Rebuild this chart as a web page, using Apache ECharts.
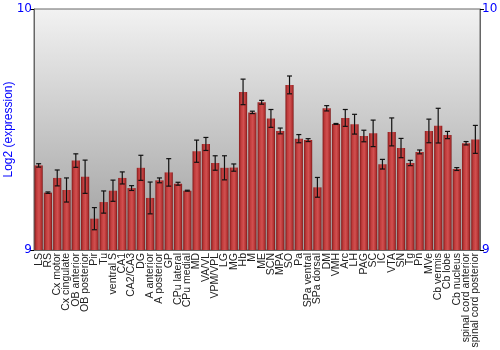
<!DOCTYPE html>
<html><head><meta charset="utf-8">
<script src="https://cdn.jsdelivr.net/npm/echarts@6/dist/echarts.min.js"></script>
<style>html,body{margin:0;padding:0;background:#fff}#c{width:500px;height:350px}</style>
</head><body><div id="c"></div>
<script>
var categories = ["LS","RS","Cx motor","Cx cingulate","OB anterior","OB posterior","Pir","Tu","ventral S","CA1","CA2/CA3","DG","A anterior","A posterior","GP","CPu lateral","CPu medial","MD","VA/VL","VPM/VPL","LG","MG","Hb","M","ME","SCN","MPA","SO","Pa","SPa ventral","SPa dorsal","DM","VMH","Arc","LH","PAG","SC","IC","VTA","SN","Tg","Pn","MVe","Cb vermis","Cb lobe","Cb nucleus","spinal cord anterior","spinal cord posterior"];
var values = [9.351,9.238,9.299,9.249,9.371,9.304,9.130,9.199,9.246,9.299,9.257,9.341,9.216,9.289,9.322,9.275,9.246,9.410,9.440,9.361,9.341,9.342,9.656,9.571,9.613,9.546,9.494,9.685,9.462,9.456,9.260,9.588,9.523,9.548,9.522,9.473,9.484,9.356,9.490,9.423,9.361,9.407,9.494,9.516,9.477,9.336,9.443,9.459];
var errors = [0.007,0.003,0.033,0.050,0.028,0.069,0.046,0.046,0.044,0.025,0.010,0.052,0.066,0.010,0.057,0.006,0.002,0.046,0.027,0.030,0.050,0.015,0.053,0.005,0.008,0.037,0.012,0.037,0.017,0.006,0.041,0.011,0.002,0.035,0.041,0.024,0.055,0.020,0.058,0.040,0.011,0.008,0.049,0.072,0.015,0.006,0.007,0.058];
var yTicks = [9, 10];

var chart = echarts.init(document.getElementById('c'), null, {renderer:'canvas'});
var errData = values.map(function(v,i){return [i, v-errors[i], v+errors[i]];});
var ff = '"Liberation Sans", Arial, sans-serif';
var yAxisBase = {
  type:'value', min:yTicks[0], max:yTicks[1], interval:1,
  axisLine:{show:true, lineStyle:{color:'#666'}},
  axisTick:{show:true, length:4, lineStyle:{color:'#000'}},
  splitLine:{show:false},
  axisLabel:{color:'#0000ff', fontSize:12, fontFamily:'"DejaVu Sans", sans-serif', margin:2}
};
chart.setOption({
  animation:false,
  grid:{left:34, right:20, top:9, bottom:100, containLabel:false, outerBoundsMode:'none',
    show:true, borderColor:'#666', borderWidth:1,
    backgroundColor:new echarts.graphic.LinearGradient(0,0,0,1,[{offset:0,color:'#f2f2f2'},{offset:1,color:'#9c9c9c'}])},
  xAxis:{type:'category', data:categories,
    axisLine:{show:true, lineStyle:{color:'#666'}}, axisTick:{show:false},
    axisLabel:{rotate:90, interval:0, fontSize:10.5, color:'#222', fontFamily:ff, margin:3}},
  yAxis:[
    Object.assign({}, yAxisBase, {position:'left', name:'Log2 (expression)', nameLocation:'middle', nameGap:19,
      nameMoveOverlap:false,
      nameTextStyle:{color:'#0000ff', fontSize:12, fontFamily:ff}}),
    Object.assign({}, yAxisBase, {position:'right'})
  ],
  series:[
    {type:'bar', data:values, barCategoryGap:'12%',
      itemStyle:{color:new echarts.graphic.LinearGradient(0,0,1,0,[
        {offset:0,color:'#841a1a'},{offset:0.25,color:'#c03c3c'},{offset:0.55,color:'#d25050'},{offset:0.85,color:'#b03030'},{offset:1,color:'#781616'}])}},
    {type:'custom', data:errData, z:5,
      renderItem:function(params, api){
        var x = api.value(0);
        var lo = api.coord([x, api.value(1)]);
        var hi = api.coord([x, api.value(2)]);
        var w = 2.5;
        var st = {stroke:'#111', lineWidth:1.2};
        return {type:'group', children:[
          {type:'line', shape:{x1:lo[0], y1:lo[1], x2:hi[0], y2:hi[1]}, style:st},
          {type:'line', shape:{x1:lo[0]-w, y1:lo[1], x2:lo[0]+w, y2:lo[1]}, style:st},
          {type:'line', shape:{x1:hi[0]-w, y1:hi[1], x2:hi[0]+w, y2:hi[1]}, style:st}
        ]};
      }}
  ]
});
</script></body></html>
